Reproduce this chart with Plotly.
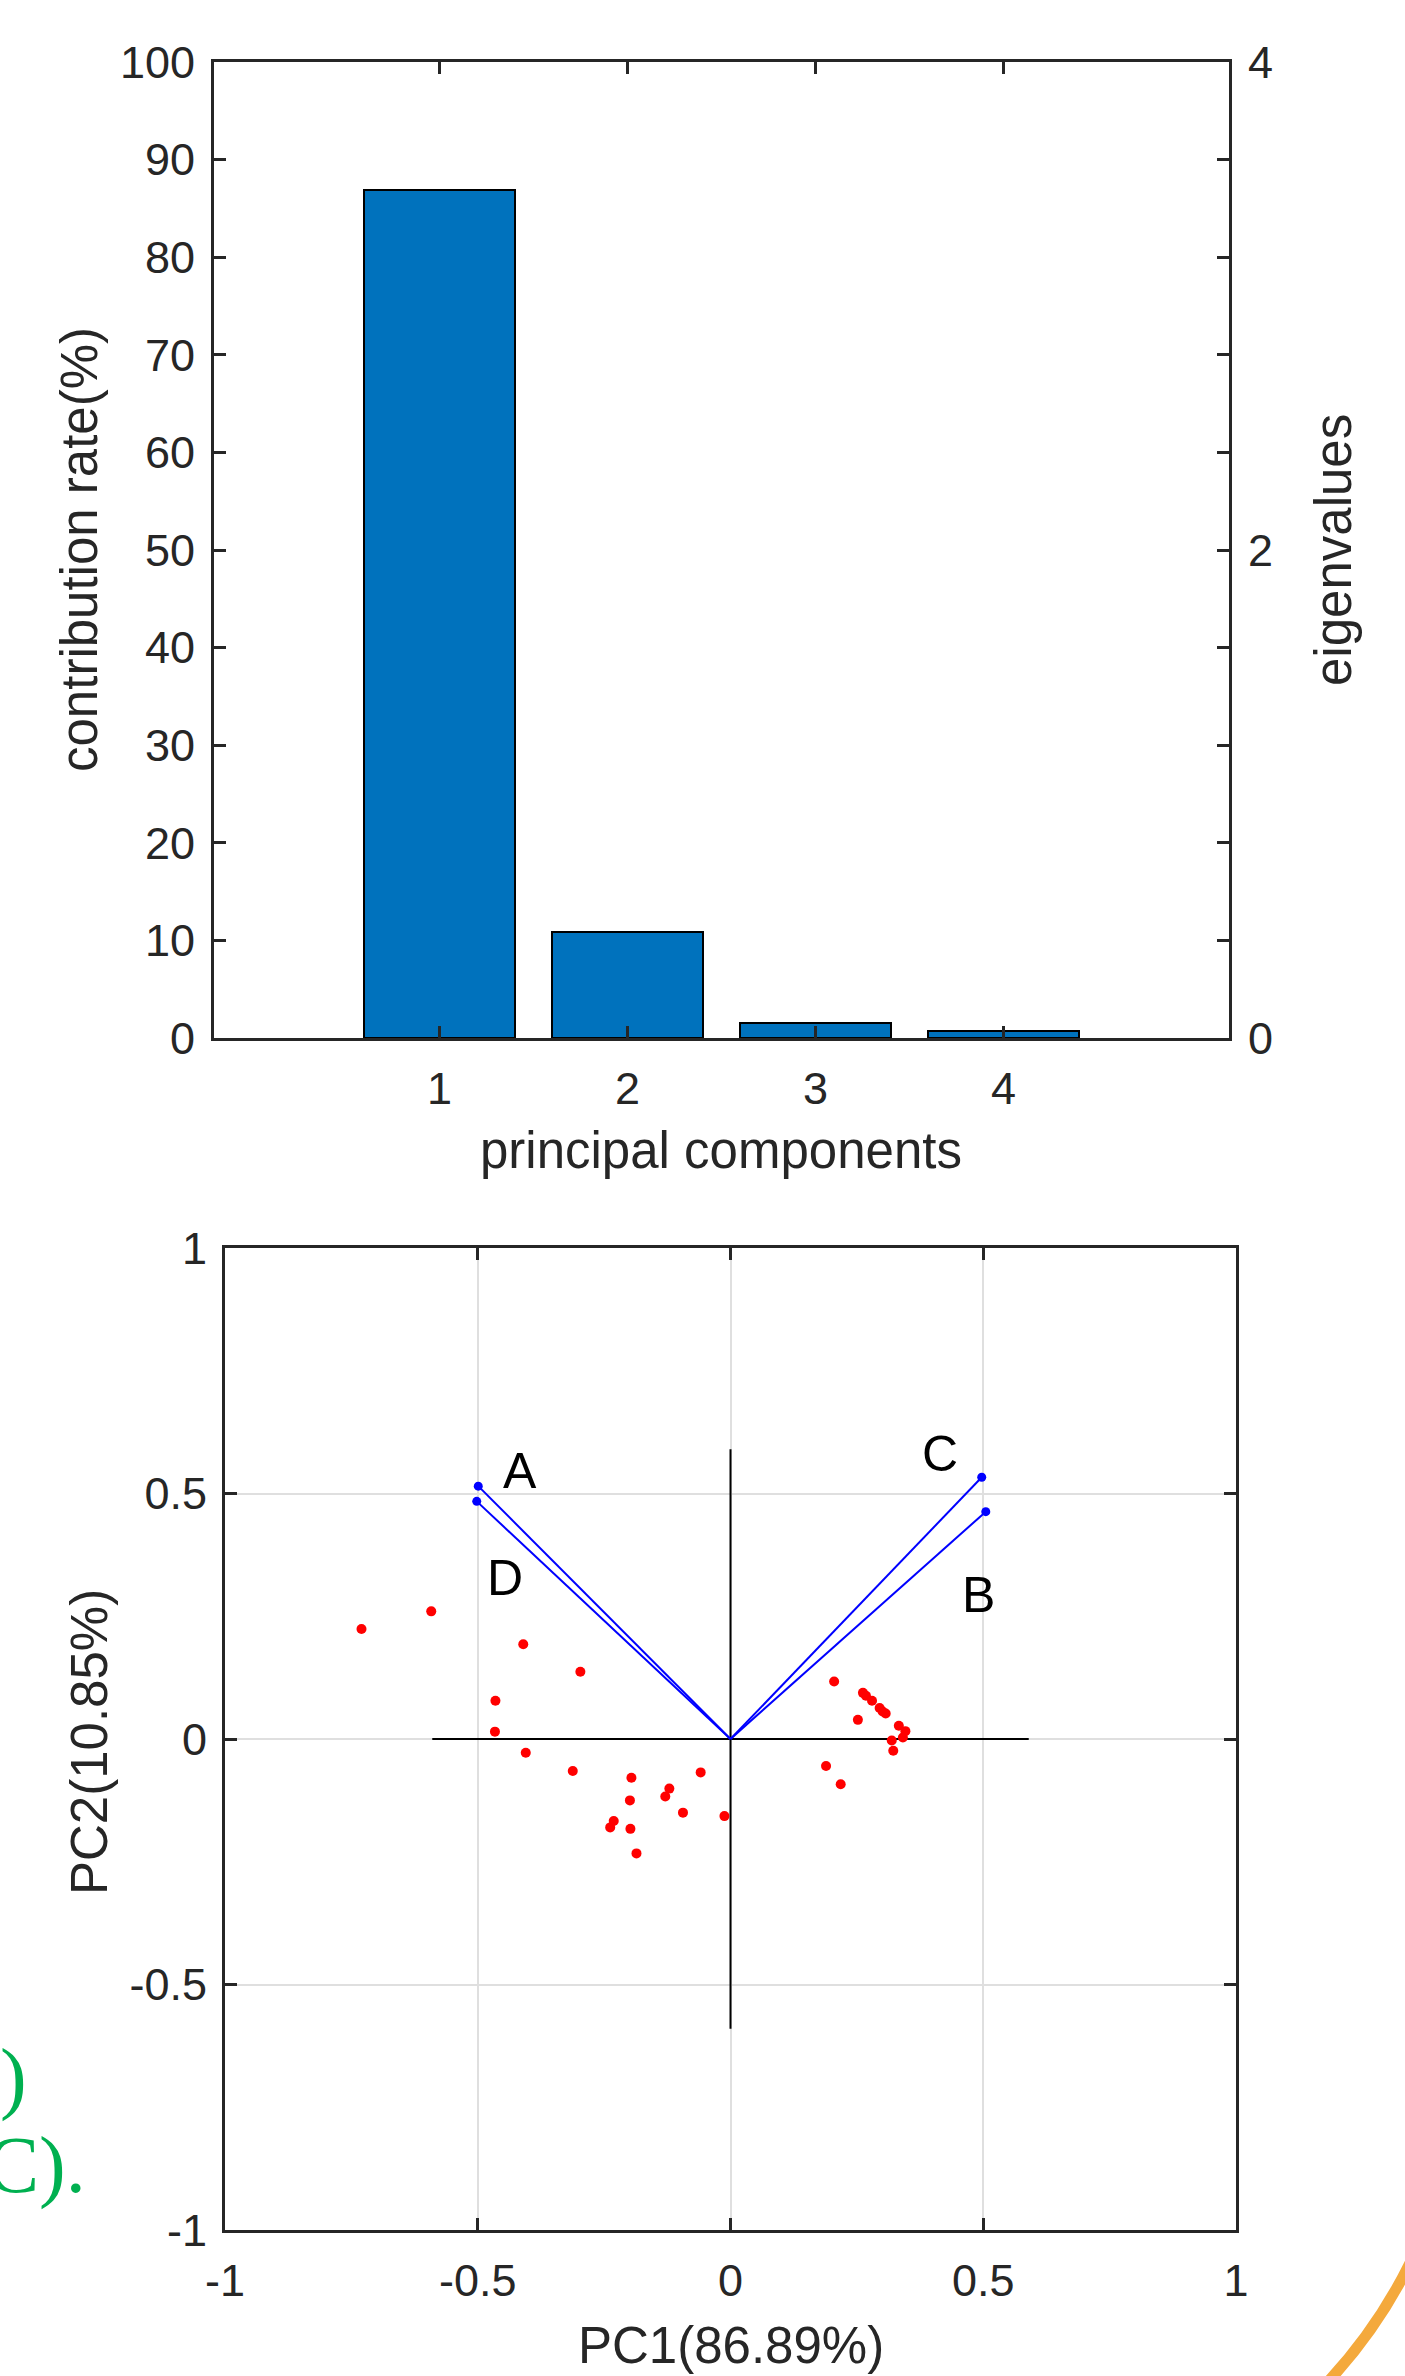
import plotly.graph_objects as go

# ---------------- data ----------------
components = [1, 2, 3, 4]
contribution = [86.89, 10.85, 1.52, 0.74]          # contribution rate (%)
left_tickvals = [0, 10, 20, 30, 40, 50, 60, 70, 80, 90, 100]
right_tickvals = [0, 0.4, 0.8, 1.2, 1.6, 2, 2.4, 2.8, 3.2, 3.6, 4]
right_ticktext = ["0", "", "", "", "", "2", "", "", "", "", "4"]

var_names = ["A", "B", "C", "D"]
load_pc1 = [-0.499, 0.505, 0.497, -0.502]
load_pc2 = [0.515, 0.463, 0.533, 0.484]
label_pc1 = [-0.417, 0.491, 0.415, -0.447]
label_pc2 = [0.546, 0.293, 0.580, 0.328]

score_pc1 = [-0.730, -0.592, -0.410, -0.297, -0.465, -0.466, -0.405, -0.312,
             -0.196, -0.199, -0.198, -0.231, -0.238, -0.121, -0.129, -0.094,
             -0.059, -0.012, -0.186,
             0.205, 0.262, 0.268, 0.280, 0.295, 0.301, 0.307, 0.252, 0.333,
             0.346, 0.341, 0.319, 0.322, 0.189, 0.218]
score_pc2 = [0.224, 0.260, 0.193, 0.137, 0.078, 0.015, -0.028, -0.065,
             -0.079, -0.125, -0.183, -0.167, -0.180, -0.101, -0.117, -0.150,
             -0.068, -0.157, -0.233,
             0.117, 0.094, 0.088, 0.078, 0.063, 0.056, 0.052, 0.039, 0.027,
             0.016, 0.003, -0.003, -0.024, -0.055, -0.092]
biplot_ticks = [-1, -0.5, 0, 0.5, 1]
biplot_ticktext = ["-1", "-0.5", "0", "0.5", "1"]
axis_extent = 0.59

# ---------------- layout helpers ----------------
W, H = 1405, 2376
def px(xp):
    return xp / W
def py(yp):
    return 1 - yp / H

DARK = "#262626"
FONT = "Liberation Sans, Arial, Helvetica, sans-serif"
SERIF = "Liberation Serif, Times New Roman, serif"
TICK_FONT = dict(family=FONT, size=45, color=DARK)
TITLE_FONT = dict(family=FONT, size=51, color=DARK)

base_axis = dict(showline=True, linecolor=DARK, linewidth=3, ticks="inside",
                 ticklen=12, tickwidth=2.5, tickcolor=DARK, tickfont=TICK_FONT,
                 zeroline=False, fixedrange=True, automargin=False)

fig = go.Figure()

# --- top: scree bars ---
fig.add_trace(go.Bar(x=components, y=contribution, width=0.8,
                     marker=dict(color="#0072BD", line=dict(color="black", width=2)),
                     xaxis="x", yaxis="y", showlegend=False, hoverinfo="skip"))
fig.add_trace(go.Scatter(x=[components[0]], y=[0], mode="markers",
                         marker=dict(opacity=0), xaxis="x", yaxis="y2",
                         showlegend=False, hoverinfo="skip"))

# --- bottom: biplot ---
fig.add_trace(go.Scatter(x=[-axis_extent, axis_extent, None, 0, 0],
                         y=[0, 0, None, -axis_extent, axis_extent],
                         mode="lines", line=dict(color="black", width=2),
                         xaxis="x2", yaxis="y3", showlegend=False, hoverinfo="skip"))
vx, vy = [], []
for a, b in zip(load_pc1, load_pc2):
    vx += [0, a, None]
    vy += [0, b, None]
fig.add_trace(go.Scatter(x=vx, y=vy, mode="lines", line=dict(color="#0000FF", width=2),
                         xaxis="x2", yaxis="y3", showlegend=False, hoverinfo="skip"))
fig.add_trace(go.Scatter(x=load_pc1, y=load_pc2, mode="markers",
                         marker=dict(color="#0000FF", size=9),
                         xaxis="x2", yaxis="y3", showlegend=False, hoverinfo="skip"))
fig.add_trace(go.Scatter(x=score_pc1, y=score_pc2, mode="markers",
                         marker=dict(color="#FF0000", size=10),
                         xaxis="x2", yaxis="y3", showlegend=False, hoverinfo="skip"))

annotations = []
for name, lx, ly in zip(var_names, label_pc1, label_pc2):
    annotations.append(dict(x=lx, y=ly, xref="x2", yref="y3", text=name, showarrow=False,
                            font=dict(family=FONT, size=50, color="black"),
                            xanchor="center", yanchor="middle"))

annotations += [
    dict(x=px(79), y=py(550), xref="paper", yref="paper", text="contribution rate(%)",
         textangle=-90, showarrow=False, font=TITLE_FONT, xanchor="center", yanchor="middle"),
    dict(x=px(1333), y=py(550), xref="paper", yref="paper", text="eigenvalues",
         textangle=-90, showarrow=False, font=TITLE_FONT, xanchor="center", yanchor="middle"),
    dict(x=px(721), y=py(1150), xref="paper", yref="paper", text="principal components",
         showarrow=False, font=TITLE_FONT, xanchor="center", yanchor="middle"),
    dict(x=px(89), y=py(1742), xref="paper", yref="paper", text="PC2(10.85%)",
         textangle=-90, showarrow=False, font=TITLE_FONT, xanchor="center", yanchor="middle"),
    dict(x=px(731), y=py(2345), xref="paper", yref="paper", text="PC1(86.89%)",
         showarrow=False, font=TITLE_FONT, xanchor="center", yanchor="middle"),
    # background document fragments
    dict(x=px(29), y=py(2077), xref="paper", yref="paper", text=")",
         showarrow=False, font=dict(family=SERIF, size=80, color="#00B050"),
         xanchor="right", yanchor="middle"),
    dict(x=px(88), y=py(2165), xref="paper", yref="paper", text="(C).",
         showarrow=False, font=dict(family=SERIF, size=80, color="#00B050"),
         xanchor="right", yanchor="middle"),
]

shapes = [
    dict(type="path", xref="paper", yref="paper",
         path=f"M {px(1410)} {py(2263)} Q {px(1377)} {py(2330)} {px(1325)} {py(2385)}",
         line=dict(color="#F4A93C", width=11), layer="above"),
]

fig.update_layout(
    template="none",
    width=W, height=H, margin=dict(l=0, r=0, t=0, b=0, pad=0, autoexpand=False),
    paper_bgcolor="white", plot_bgcolor="white",
    showlegend=False, bargap=0,
    xaxis=dict(base_axis, domain=[px(214), px(1229)], range=[-0.2, 5.2],
               tickvals=components, mirror="ticks", showgrid=False, anchor="y",
               ticklabelstandoff=9),
    yaxis=dict(base_axis, domain=[py(1038), py(62)], range=[0, 100],
               tickvals=left_tickvals, mirror=True, showgrid=False, anchor="x",
               ticklabelstandoff=7),
    yaxis2=dict(base_axis, overlaying="y", side="right", range=[0, 4],
                tickvals=right_tickvals, ticktext=right_ticktext, showgrid=False,
                anchor="x", ticklabelstandoff=7),
    xaxis2=dict(base_axis, domain=[px(225), px(1236)], range=[-1, 1],
                tickvals=biplot_ticks, ticktext=biplot_ticktext, mirror="ticks",
                showgrid=True, gridcolor="#DFDFDF", gridwidth=1.5, anchor="y3",
                ticklabelstandoff=9),
    yaxis3=dict(base_axis, domain=[py(2230), py(1248)], range=[-1, 1],
                tickvals=biplot_ticks, ticktext=biplot_ticktext, mirror="ticks",
                showgrid=True, gridcolor="#DFDFDF", gridwidth=1.5, anchor="x2",
                ticklabelstandoff=6),
    annotations=annotations,
    shapes=shapes,
)

fig.write_html("out.html")
